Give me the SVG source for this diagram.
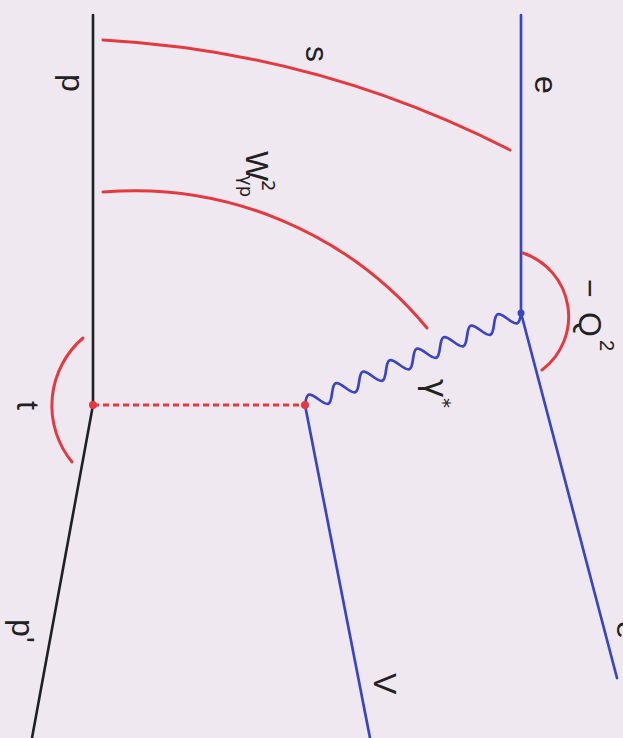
<svg xmlns="http://www.w3.org/2000/svg" width="623" height="738" viewBox="0 0 623 738">
<style>
.bg{fill:#efe8f1}
.blk{stroke:#1f1f24;stroke-width:2.6;fill:none;stroke-linecap:round}
.blu{stroke:#3a45c4;stroke-width:2.7;fill:none;stroke-linecap:round}
.red{stroke:#e43a3f;stroke-width:3;fill:none;stroke-linecap:round}
.dash{stroke:#e43a3f;stroke-width:3;fill:none;stroke-dasharray:6 4}
text{font-family:"Liberation Sans",Arial,sans-serif;font-size:32px;fill:#222}
.g{font-family:"DejaVu Sans","Liberation Sans",sans-serif}
</style>
<rect class="bg" x="0" y="0" width="623" height="738"/>
<g id="connectors">
  <line id="p-in" class="blk" x1="93" y1="15" x2="93" y2="405"/>
  <line id="p-out" class="blk" x1="93" y1="405" x2="32" y2="738"/>
  <line id="e-in" class="blu" x1="521" y1="15" x2="521" y2="313"/>
  <line id="e-out" class="blu" x1="521" y1="313" x2="617" y2="678"/>
  <line id="v-out" class="blu" x1="305" y1="405" x2="370" y2="738"/>
  <line id="pomeron" class="dash" x1="93" y1="405" x2="305" y2="405"/>
  <path id="photon" class="blu" transform="translate(305,405) rotate(-23.07)" d="M0,0 c6.23,-10.67 8.445,-10.67 14.675,0 s8.445,10.67 14.675,0 s8.445,-10.67 14.675,0 s8.445,10.67 14.675,0 s8.445,-10.67 14.675,0 s8.445,10.67 14.675,0 s8.445,-10.67 14.675,0 s8.445,10.67 14.675,0 s8.445,-10.67 14.675,0 s8.445,10.67 14.675,0 s8.445,-10.67 14.675,0 s8.445,10.67 14.675,0 s8.445,-10.67 14.675,0 s8.445,10.67 14.675,0 s8.445,-10.67 14.675,0 s8.445,10.67 14.675,0"/>
</g>
<g id="arcs">
  <path id="arc-s" class="red" d="M103,40 A1016,1016 0 0 1 510,150"/>
  <path id="arc-w" class="red" d="M103,192 A380,380 0 0 1 427,328"/>
  <path id="arc-t" class="red" d="M83,338 A89,89 0 0 0 72,462"/>
  <path id="arc-q" class="red" d="M523,253 A67,67 0 0 1 542,370"/>
</g>
<g id="vertices">
  <circle id="vtx-e" cx="521" cy="313" r="3.5" fill="#3a45c4"/>
  <circle id="vtx-p" cx="93" cy="405" r="4" fill="#e43a3f"/>
  <circle id="vtx-v" cx="305" cy="405" r="4" fill="#e43a3f"/>
</g>
<g id="labels">
  <g id="lbl-p"><text transform="translate(62,74) rotate(90)">p</text></g>
  <g id="lbl-e"><text transform="translate(535,76) rotate(90)">e</text></g>
  <g id="lbl-s"><text transform="translate(306,46) rotate(90)">s</text></g>
  <g id="lbl-w"><text transform="translate(246,151) rotate(90)" font-size="31">W<tspan class="g" font-size="18" x="29" y="-16">2</tspan><tspan class="g" font-size="18" x="24" y="6">γp</tspan></text></g>
  <g id="lbl-q"><text transform="translate(579,0) rotate(90)"><tspan x="279">−</tspan><tspan x="312">Q</tspan><tspan font-size="20" x="340" y="-21">2</tspan></text></g>
  <g id="lbl-gamma"><text class="g" transform="translate(425,379) rotate(90)" font-size="28">γ<tspan font-size="20" dy="-12">*</tspan></text></g>
  <g id="lbl-t"><text transform="translate(17,401) rotate(90)">t</text></g>
  <g id="lbl-pp"><text transform="translate(12,619) rotate(90)">p'</text></g>
  <g id="lbl-v"><text transform="translate(374,673) rotate(90)">V</text></g>
  <g id="lbl-e2"><text transform="translate(617,621) rotate(90)">e</text></g>
</g>
</svg>
